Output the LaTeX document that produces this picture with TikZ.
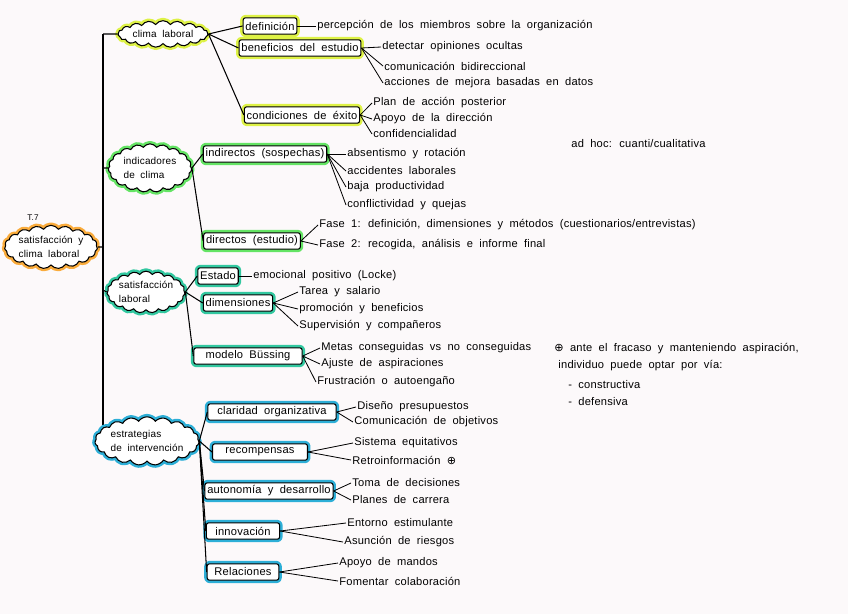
\documentclass[tikz,border=0pt]{standalone}
\usepackage{fontspec}
\setmainfont{Liberation Sans}[WordSpace=1.9, LetterSpace=2]
\newfontfamily\symfont{DejaVu Sans}
\usetikzlibrary{positioning,shapes.symbols}
\definecolor{paper}{RGB}{252,249,250}
\definecolor{rootorange}{RGB}{250,172,60}
\definecolor{climayellow}{RGB}{222,242,70}
\definecolor{indgreen}{RGB}{100,228,100}
\definecolor{satteal}{RGB}{50,200,160}
\definecolor{estblue}{RGB}{45,175,215}

\begin{document}
\begin{tikzpicture}[x=0.03cm, y=-0.03cm, every node/.style={font=\fontsize{9.5}{12}\selectfont},
    glow/.style={preaction={draw=#1, line width=5pt, line join=round}}]
  \tikzstyle{cloudbox}=[cloud, cloud puffs=19, cloud puff arc=110, cloud ignores aspect, draw, line width=0.9pt, fill=white, align=left, inner sep=0pt, font=\fontsize{8.5}{11.5}\selectfont]
  \tikzstyle{topicbox}=[draw, line width=0.9pt, rounded corners=2pt, inner sep=2pt, minimum height=14pt, fill=white]
  \tikzstyle{leaf}=[anchor=west, inner sep=1pt]
  \tikzstyle{branch}=[line width=0.9pt]
  \tikzstyle{twig}=[line width=0.7pt]
  \fill[paper] (0,0) rectangle (848,614);
  \useasboundingbox (0,0) rectangle (848,614);

  % tronco
  \coordinate (tc) at (103,34);
  \coordinate (ti) at (103,168);
  \coordinate (tr) at (103,247);
  \coordinate (ts) at (103,290);
  \coordinate (te) at (103,430);
  \draw[branch] (tc) -- (te);

  % raiz
  \node[font=\fontsize{7}{8}\selectfont] (tema) at (33,218) {T.7};
  \node[cloudbox, glow=rootorange, minimum width=2.5cm, minimum height=1.3cm] (root) at (51,247) {satisfacción y\\clima laboral};

  % clima laboral
  \node[cloudbox, glow=climayellow, minimum width=2.7cm, minimum height=0.8cm] (clima) at (163,34) {clima laboral};
  \node[topicbox, glow=climayellow] (def) at (270,26) {definición};
  \node[topicbox, glow=climayellow] (ben) at (300,48) {beneficios del estudio};
  \node[topicbox, glow=climayellow] (cond) at (302,115) {condiciones de éxito};
  \node[leaf] (d1) at (316,26) {percepción de los miembros sobre la organización};
  \node[leaf] (b1) at (381,47) {detectar opiniones ocultas};
  \node[leaf] (b2) at (383,66) {comunicación bidireccional};
  \node[leaf] (b3) at (383,83) {acciones de mejora basadas en datos};
  \node[leaf] (c1) at (372,103) {Plan de acción posterior};
  \node[leaf] (c2) at (372,119) {Apoyo de la dirección};
  \node[leaf] (c3) at (372,134) {confidencialidad};

  % indicadores
  \node[cloudbox, glow=indgreen, minimum width=2.5cm, minimum height=1.45cm] (indic) at (150,168) {indicadores\\de clima};
  \node[topicbox, glow=indgreen] (ind) at (265,154) {indirectos (sospechas)};
  \node[topicbox, glow=indgreen] (dir) at (252,241) {directos (estudio)};
  \node[leaf] (i1) at (346,154) {absentismo y rotación};
  \node[leaf] (i2) at (346,171) {accidentes laborales};
  \node[leaf] (i3) at (346,187) {baja productividad};
  \node[leaf] (i4) at (346,205) {conflictividad y quejas};
  \node[leaf] (f1) at (318,225) {Fase 1: definición, dimensiones y métodos (cuestionarios/entrevistas)};
  \node[leaf] (f2) at (318,245) {Fase 2: recogida, análisis e informe final};
  \node[leaf] (adhoc) at (570,144) {ad hoc: cuanti/cualitativa};

  % satisfaccion laboral
  \node[cloudbox, glow=satteal, minimum width=2.3cm, minimum height=1.25cm] (satis) at (146,292) {satisfacción\\laboral};
  \node[topicbox, glow=satteal] (est) at (218,276) {Estado};
  \node[topicbox, glow=satteal] (dim) at (238,303) {dimensiones};
  \node[topicbox, glow=satteal, minimum width=3.25cm] (bus) at (248,356) {modelo Büssing};
  \node[leaf] (e1) at (252,276) {emocional positivo (Locke)};
  \node[leaf] (m1) at (298,292) {Tarea y salario};
  \node[leaf] (m2) at (298,309) {promoción y beneficios};
  \node[leaf] (m3) at (298,326) {Supervisión y compañeros};
  \node[leaf] (s1) at (320,348) {Metas conseguidas vs no conseguidas};
  \node[leaf] (s2) at (320,364) {Ajuste de aspiraciones};
  \node[leaf] (s3) at (316,382) {Frustración o autoengaño};
  \node[leaf] (n1) at (553,349) {{\symfont ⊕} ante el fracaso y manteniendo aspiración,};
  \node[leaf] (n2) at (557,366) {individuo puede optar por vía:};
  \node[leaf] (n3) at (567,385) {- constructiva};
  \node[leaf] (n4) at (567,402) {- defensiva};

  % estrategias
  \node[cloudbox, glow=estblue, minimum width=2.9cm, minimum height=1.45cm] (estr) at (147,441) {estrategias\\de intervención};
  \node[topicbox, glow=estblue, minimum width=3.85cm] (cla) at (272,412) {claridad organizativa};
  \node[topicbox, glow=estblue, minimum width=2.85cm] (rec) at (260,452) {recompensas};
  \node[topicbox, glow=estblue] (aut) at (269,491) {autonomía y desarrollo};
  \node[topicbox, glow=estblue, minimum width=2.2cm] (inn) at (243,531) {innovación};
  \node[topicbox, glow=estblue, minimum width=2.15cm] (rel) at (243,572) {Relaciones};
  \node[leaf] (k1) at (356,407) {Diseño presupuestos};
  \node[leaf] (k2) at (353,422) {Comunicación de objetivos};
  \node[leaf] (r1) at (353,443) {Sistema equitativos};
  \node[leaf] (r2) at (351,460) {Retroinformación {\symfont ⊕}};
  \node[leaf] (a1) at (351,483) {Toma de decisiones};
  \node[leaf] (a2) at (351,500) {Planes de carrera};
  \node[leaf] (v1) at (346,523) {Entorno estimulante};
  \node[leaf] (v2) at (343,542) {Asunción de riesgos};
  \node[leaf] (l1) at (338,563) {Apoyo de mandos};
  \node[leaf] (l2) at (338,581) {Fomentar colaboración};

  \draw[branch] (tc) -- (clima.west);
  \draw[branch] (ti) -- (indic.west);
  \draw[branch] (tr) -- (root.east);
  \draw[branch] (ts) -- (satis.west);

  % ramas
  \foreach \a/\b in {clima/def, clima/ben, clima/cond, indic/ind, indic/dir,
      satis/est, satis/dim, satis/bus, estr/cla, estr/rec, estr/aut, estr/inn, estr/rel}
    \draw[branch] (\a.east) -- (\b.west);
  \foreach \a/\b in {def/d1, ben/b1, ben/b2, ben/b3, cond/c1, cond/c2, cond/c3,
      ind/i1, ind/i2, ind/i3, ind/i4, dir/f1, dir/f2, est/e1, dim/m1, dim/m2, dim/m3,
      bus/s1, bus/s2, bus/s3, cla/k1, cla/k2, rec/r1, rec/r2, aut/a1, aut/a2,
      inn/v1, inn/v2, rel/l1, rel/l2}
    \draw[twig] (\a.east) -- (\b.west);
\end{tikzpicture}
\end{document}
